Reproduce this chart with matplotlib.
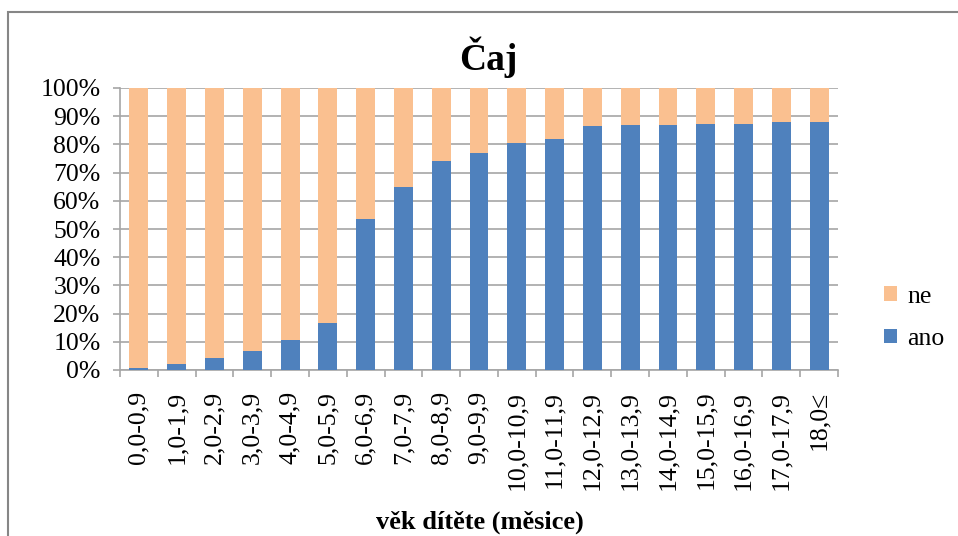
import numpy as np
import matplotlib.pyplot as plt
from matplotlib.patches import Rectangle

plt.rcParams['font.family'] = ['Liberation Serif', 'DejaVu Serif']

# age groups (months) and share of "ano" answers in %
categories = ['0,0-0,9', '1,0-1,9', '2,0-2,9', '3,0-3,9', '4,0-4,9', '5,0-5,9',
              '6,0-6,9', '7,0-7,9', '8,0-8,9', '9,0-9,9', '10,0-10,9',
              '11,0-11,9', '12,0-12,9', '13,0-13,9', '14,0-14,9',
              '15,0-15,9', '16,0-16,9', '17,0-17,9', '18,0≤']
ano = [0.7, 2.0, 4.4, 6.6, 10.8, 16.6, 53.6, 65.0, 74.2, 76.9, 80.6,
       81.9, 86.4, 87.0, 87.0, 87.4, 87.4, 87.8, 87.8]
ne = [100 - a for a in ano]

blue = '#4F81BD'
orange = '#FAC090'
grid = '#A6A6A6'

fig = plt.figure(figsize=(9.58, 5.36), dpi=100)
ax = fig.add_axes([120 / 958, 1 - 370 / 536, 718 / 958, 282 / 536])

x = np.arange(len(categories))
b1 = ax.bar(x, ano, width=0.5, color=blue, label='ano', zorder=3)
b2 = ax.bar(x, ne, width=0.5, bottom=ano, color=orange, label='ne', zorder=3)

ax.set_xlim(-0.5, len(categories) - 0.5)
ax.set_ylim(0, 100)
ax.set_yticks(np.arange(0, 101, 10))
ax.set_yticklabels(['%d%%' % v for v in range(0, 101, 10)])
ax.yaxis.grid(True, color=grid, lw=1.2, zorder=0)

ax.set_xticks(x)
ax.set_xticklabels(categories, rotation=90, va='top', ha='center')
ax.set_xticks(np.arange(-0.5, len(categories)), minor=True)
ax.tick_params(axis='x', which='major', length=0, pad=15, labelsize=18.5)
ax.tick_params(axis='x', which='minor', length=5, width=1.2, color=grid)
ax.tick_params(axis='y', length=5, width=1.2, color=grid, pad=9, labelsize=18.5)

for s in ['top', 'right']:
    ax.spines[s].set_visible(False)
for s in ['left', 'bottom']:
    ax.spines[s].set_color(grid)
    ax.spines[s].set_linewidth(1.2)

fig.text(488 / 958, 1 - 70 / 536, 'Čaj', ha='center', va='baseline',
         fontsize=27, fontweight='bold')
fig.text(480 / 958, 1 - 522 / 536, 'věk dítěte (měsice)', ha='center',
         va='center', fontsize=19, fontweight='bold')

fig.legend([b2, b1], ['ne', 'ano'], loc='center left',
           bbox_to_anchor=(884 / 958, 1 - 318 / 536), frameon=False,
           fontsize=18.5, handlelength=0.5, handleheight=0.5,
           handletextpad=0.4, labelspacing=0.8, borderpad=0,
           borderaxespad=0)

fig.patches.append(Rectangle((8 / 958, -0.1), 1.2, 0.1 + 1 - 12 / 536,
                             transform=fig.transFigure, fill=False,
                             edgecolor='#868686', lw=1.5))

fig.savefig('out.png', dpi=100)
